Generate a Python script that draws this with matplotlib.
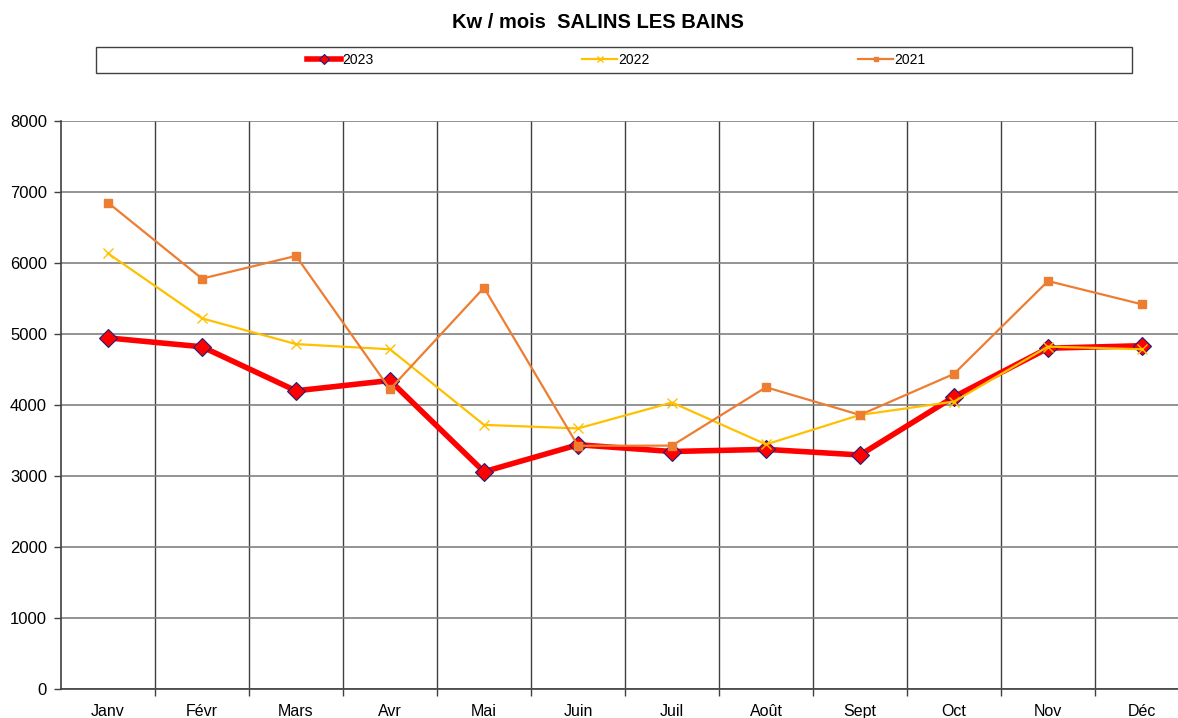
import numpy as np
import matplotlib.pyplot as plt
from matplotlib.patches import Rectangle

plt.rcParams['font.family'] = ['Liberation Sans', 'DejaVu Sans']

mois = ['Janv', 'Févr', 'Mars', 'Avr', 'Mai', 'Juin', 'Juil', 'Août', 'Sept', 'Oct', 'Nov', 'Déc']
kw_2023 = [4945, 4820, 4200, 4345, 3060, 3440, 3345, 3375, 3296, 4115, 4800, 4835]
kw_2022 = [6135, 5220, 4858, 4785, 3720, 3670, 4035, 3445, 3860, 4048, 4822, 4785]
kw_2021 = [6850, 5780, 6100, 4222, 5652, 3425, 3428, 4250, 3860, 4438, 5746, 5418]

W, H = 1178, 718
fig = plt.figure(figsize=(W / 100, H / 100), dpi=100)
# le graphique depasse a droite de l'image, comme dans l'original
ax = fig.add_axes([61 / W, 29 / H, 1128 / W, 568 / H])

x = np.arange(len(mois))
ax.plot(x, kw_2023, color='#FF0000', lw=4.0, marker='D', ms=9,
        mfc='#FF0000', mec='#1F1F7A', mew=0.8, label='2023', zorder=3)
ax.plot(x, kw_2022, color='#FFC000', lw=1.6, marker='x', ms=7,
        mec='#FFC000', mew=1.0, label='2022', zorder=4)
ax.plot(x, kw_2021, color='#ED7D31', lw=1.6, marker='s', ms=6,
        mfc='#ED7D31', mec='#ED7D31', label='2021', zorder=5)

ax.set_xlim(-0.5, len(mois) - 0.5)
ax.set_ylim(0, 8000)
ax.set_yticks(np.arange(0, 8001, 1000))
ax.set_xticks(x)
ax.set_xticklabels(mois)
ax.set_xticks(np.arange(0.5, len(mois) - 0.5, 1), minor=True)

ax.tick_params(axis='x', which='major', length=0, pad=11, labelsize=11.5)
ax.tick_params(axis='x', which='minor', length=5, width=1, color='#404040', direction='out')
ax.tick_params(axis='y', length=5, width=1, color='#404040', pad=5, labelsize=12)

ax.grid(axis='y', which='major', color='#808080', lw=1.2, zorder=0)
ax.grid(axis='x', which='minor', color='#404040', lw=1.0, zorder=0)
ax.set_axisbelow(True)

for s in ['top', 'right']:
    ax.spines[s].set_visible(False)
for s in ['left', 'bottom']:
    ax.spines[s].set_color('#404040')
    ax.spines[s].set_linewidth(1.2)

fig.text(598 / W, 1 - 22 / H, 'Kw / mois  SALINS LES BAINS', ha='center', va='center',
         fontsize=14.5, fontweight='bold')

# cadre de la legende
fig.patches.append(Rectangle((96 / W, 1 - 73 / H), 1036 / W, 26 / H,
                             transform=fig.transFigure, fill=False,
                             edgecolor='#404040', lw=1.0))
fig.legend(loc='center', bbox_to_anchor=(616 / W, 1 - 60 / H), ncol=3,
           frameon=False, fontsize=10, handlelength=2.5, handletextpad=0.1,
           columnspacing=15, markerscale=0.6)

fig.savefig('out.png', dpi=100)
